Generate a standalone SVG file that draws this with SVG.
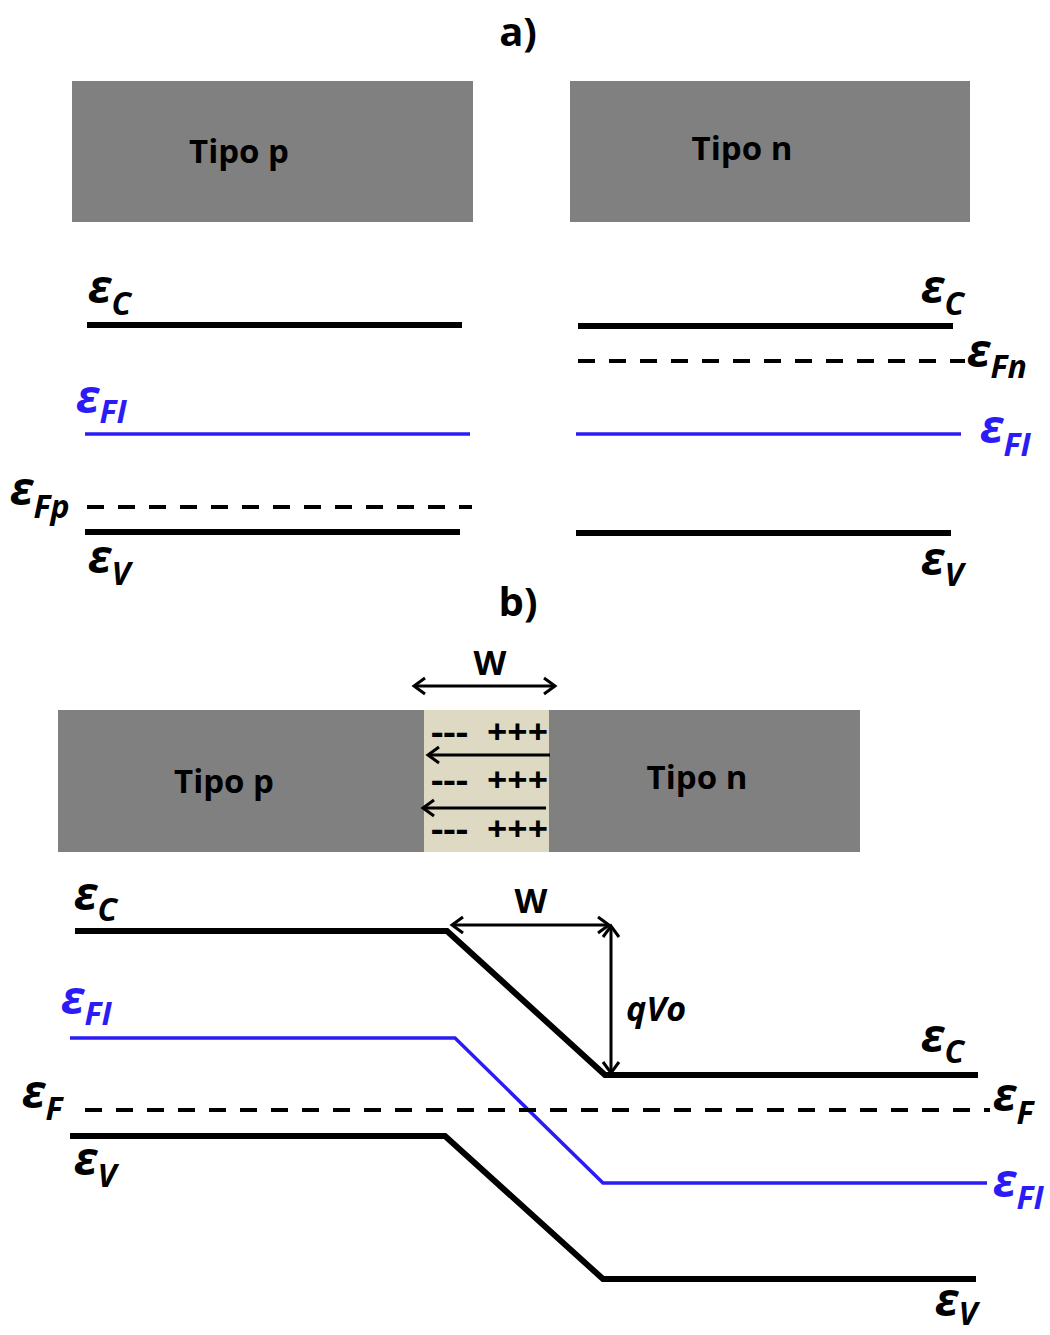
<svg xmlns="http://www.w3.org/2000/svg" width="1050" height="1335" viewBox="0 0 1050 1335">
<style>
.box{fill:#808080}
.dep{fill:#ddd9c3}
.lbl{font-family:"Open Sans","DejaVu Sans",sans-serif;font-weight:bold;fill:#000}
.big{font-size:40px}
.tipo{font-size:33px}
.eps{font-family:"Open Sans","DejaVu Sans",sans-serif;font-weight:bold;font-style:italic;font-size:46px;fill:#000}
.blue{fill:#2b1cf5}
.sub{font-size:32px}
.pm{font-size:34px}
.qv{font-family:"Open Sans","DejaVu Sans",sans-serif;font-weight:bold;font-style:italic;font-size:34px;fill:#000}
.band{fill:none;stroke:#000;stroke-width:6}
.fi{fill:none;stroke:#2b1cf5;stroke-width:3.5}
.dash{fill:none;stroke:#000;stroke-width:4;stroke-dasharray:17 14}
.arr{fill:none;stroke:#000;stroke-width:3}
</style>
<defs>
<marker id="ah" viewBox="0 0 20 20" refX="17" refY="10" markerWidth="20" markerHeight="20" orient="auto-start-reverse" markerUnits="userSpaceOnUse">
<path d="M6,2 L17,10 L6,18" fill="none" stroke="#000" stroke-width="3"/>
</marker>
</defs>

<!-- Part a -->
<text class="lbl big" x="518" y="46" text-anchor="middle">a)</text>
<g id="a-tipo-p"><rect class="box" x="72" y="81" width="401" height="141"/><text class="lbl tipo" x="239" y="163" text-anchor="middle">Tipo p</text></g>
<g id="a-tipo-n"><rect class="box" x="570" y="81" width="400" height="141"/><text class="lbl tipo" x="742" y="160" text-anchor="middle">Tipo n</text></g>

<g id="a-levels">
<line class="band" x1="87" y1="325" x2="462" y2="325"/>
<line class="fi" x1="85" y1="434" x2="470" y2="434"/>
<line class="dash" x1="87" y1="507" x2="472" y2="507"/>
<line class="band" x1="85" y1="532" x2="460" y2="532"/>
<line class="band" x1="578" y1="326" x2="953" y2="326"/>
<line class="dash" x1="578" y1="361" x2="965" y2="361"/>
<line class="fi" x1="576" y1="434" x2="961" y2="434"/>
<line class="band" x1="576" y1="533" x2="951" y2="533"/>
</g>
<g id="a-labels">
<text class="eps" x="88" y="303">ε<tspan class="sub" dy="12">C</tspan></text>
<text class="eps blue" x="76" y="413">ε<tspan class="sub" dy="10">FI</tspan></text>
<text class="eps" x="10" y="505">ε<tspan class="sub" dy="13">Fp</tspan></text>
<text class="eps" x="88" y="573">ε<tspan class="sub" dy="12">V</tspan></text>
<text class="eps" x="921" y="303">ε<tspan class="sub" dy="12">C</tspan></text>
<text class="eps" x="967" y="367">ε<tspan class="sub" dy="11">Fn</tspan></text>
<text class="eps blue" x="980" y="443">ε<tspan class="sub" dy="13">FI</tspan></text>
<text class="eps" x="921" y="575">ε<tspan class="sub" dy="11">V</tspan></text>
</g>

<!-- Part b -->
<text class="lbl big" x="518" y="616" text-anchor="middle">b)</text>
<g id="b-device">
<rect class="box" x="58" y="710" width="802" height="142"/>
<rect class="dep" x="424" y="710" width="125" height="142"/>
<text class="lbl tipo" x="224" y="793" text-anchor="middle">Tipo p</text>
<text class="lbl tipo" x="697" y="789" text-anchor="middle">Tipo n</text>
<text class="lbl pm" x="431" y="744" textLength="37" lengthAdjust="spacingAndGlyphs">---</text>
<text class="lbl pm" x="487" y="744" textLength="61" lengthAdjust="spacingAndGlyphs">+++</text>
<text class="lbl pm" x="431" y="792" textLength="37" lengthAdjust="spacingAndGlyphs">---</text>
<text class="lbl pm" x="487" y="792" textLength="61" lengthAdjust="spacingAndGlyphs">+++</text>
<text class="lbl pm" x="431" y="841" textLength="37" lengthAdjust="spacingAndGlyphs">---</text>
<text class="lbl pm" x="487" y="841" textLength="61" lengthAdjust="spacingAndGlyphs">+++</text>
</g>
<g id="connectors">
<line class="arr" x1="414" y1="686" x2="555" y2="686" marker-start="url(#ah)" marker-end="url(#ah)"/>
<line class="arr" x1="550" y1="755" x2="428" y2="755" marker-end="url(#ah)"/>
<line class="arr" x1="546" y1="808" x2="423" y2="808" marker-end="url(#ah)"/>
<line class="arr" x1="452" y1="925" x2="609" y2="925" marker-start="url(#ah)" marker-end="url(#ah)"/>
<line class="arr" x1="611" y1="926" x2="611" y2="1073" marker-start="url(#ah)" marker-end="url(#ah)"/>
</g>
<text class="lbl" font-size="34" x="490" y="675" text-anchor="middle">W</text>
<text class="lbl" font-size="34" x="531" y="913" text-anchor="middle">W</text>
<text class="qv" x="626" y="1021">qVo</text>

<g id="b-levels">
<polyline class="band" points="75,931 447,931 605,1075 978,1075"/>
<polyline class="fi" points="70,1038 455,1038 603,1183 987,1183"/>
<line class="dash" x1="85" y1="1110" x2="990" y2="1110"/>
<polyline class="band" points="70,1136 445,1136 603,1279 976,1279"/>
</g>
<g id="b-labels">
<text class="eps" x="74" y="910">ε<tspan class="sub" dy="11">C</tspan></text>
<text class="eps blue" x="61" y="1014">ε<tspan class="sub" dy="11">FI</tspan></text>
<text class="eps" x="22" y="1108">ε<tspan class="sub" dy="12">F</tspan></text>
<text class="eps" x="74" y="1175">ε<tspan class="sub" dy="12">V</tspan></text>
<text class="eps" x="921" y="1052">ε<tspan class="sub" dy="11">C</tspan></text>
<text class="eps" x="993" y="1111">ε<tspan class="sub" dy="13">F</tspan></text>
<text class="eps blue" x="993" y="1197">ε<tspan class="sub" dy="12">FI</tspan></text>
<text class="eps" x="935" y="1316">ε<tspan class="sub" dy="9">V</tspan></text>
</g>
</svg>
